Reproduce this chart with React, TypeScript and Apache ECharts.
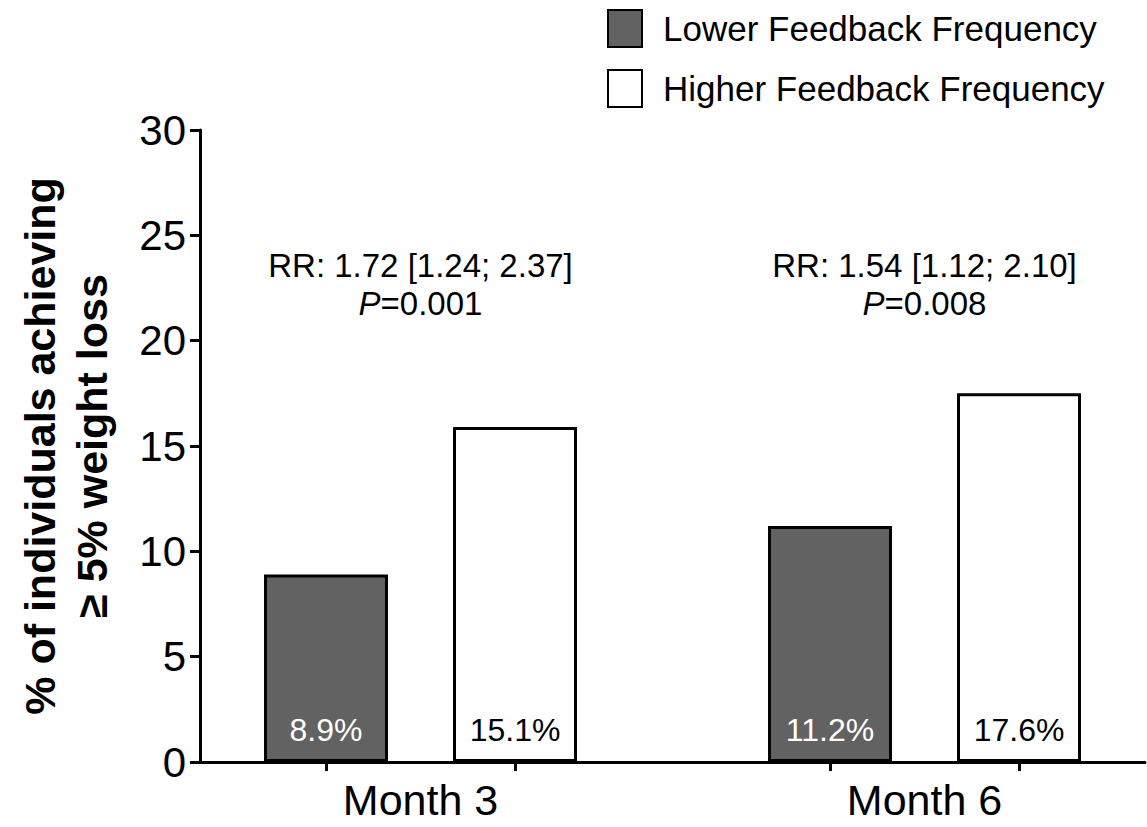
import React, { useEffect, useRef } from "react";
import * as echarts from "echarts";

// ---- data ----
const groups = ["Month 3", "Month 6"];
const seriesNames = ["Lower Feedback Frequency", "Higher Feedback Frequency"];
const lowerValues = [8.9, 11.2];
const higherValues = [15.9, 17.5];
const lowerLabels = ["8.9%", "11.2%"];
const higherLabels = ["15.1%", "17.6%"];
const rrTexts = ["RR: 1.72 [1.24; 2.37]", "RR: 1.54 [1.12; 2.10]"];
const pTexts = ["0.001", "0.008"];
const yTicks = [0, 5, 10, 15, 20, 25, 30];

// ---- layout (slot positions on a fine category axis) ----
const SLOT_COUNT = 31;
const lowerSlots = [4, 20];
const higherSlots = [10, 26];
const labelSlots = [7, 23];

const FONT = "'Liberation Sans', Arial, Helvetica, sans-serif";

export default function App() {
  const ref = useRef<HTMLDivElement>(null);

  useEffect(() => {
    if (!ref.current) return;
    const chart = echarts.init(ref.current, undefined, { renderer: "svg" });

    const cats: string[] = Array.from({ length: SLOT_COUNT }, () => "");
    labelSlots.forEach((s, i) => (cats[s] = groups[i]));
    const lowerData: (number | null)[] = Array.from({ length: SLOT_COUNT }, () => null);
    const higherData: (number | null)[] = Array.from({ length: SLOT_COUNT }, () => null);
    lowerSlots.forEach((s, i) => (lowerData[s] = lowerValues[i]));
    higherSlots.forEach((s, i) => (higherData[s] = higherValues[i]));

    const gridLeft = 200;
    const gridRight = 2;
    const gridTop = 130;
    const gridBottom = 65;
    const W = 1147;
    const plotW = W - gridLeft - gridRight;
    const slotPx = plotW / (SLOT_COUNT - 1);

    const annotations = labelSlots.map((s, i) => ({
      type: "text",
      x: gridLeft + s * slotPx,
      y: 284,
      style: {
        text: `${rrTexts[i]}\n{i|P}=${pTexts[i]}`,
        fontFamily: FONT,
        fontSize: 33,
        lineHeight: 38,
        fill: "#000",
        align: "center",
        verticalAlign: "middle",
        rich: {
          i: { fontStyle: "italic", fontFamily: FONT, fontSize: 33, lineHeight: 38, fill: "#000" },
        },
      },
    }));

    chart.setOption({
      animation: false,
      backgroundColor: "#fff",
      textStyle: { fontFamily: FONT },
      grid: { left: gridLeft, right: gridRight, top: gridTop, bottom: gridBottom, containLabel: false },
      legend: {
        orient: "vertical",
        left: 607,
        top: 9,
        padding: 0,
        itemWidth: 34,
        itemHeight: 37,
        itemGap: 21,
        icon: "rect",
        data: seriesNames,
        selectedMode: false,
        textStyle: { fontSize: 35, color: "#000", fontFamily: FONT, padding: [0, 0, 0, 16] },
      },
      xAxis: {
        type: "category",
        data: cats,
        boundaryGap: false,
        axisLine: { lineStyle: { color: "#000", width: 3 } },
        axisTick: {
          show: true,
          length: 9,
          lineStyle: { color: "#000", width: 3 },
          interval: (idx: number) => lowerSlots.includes(idx) || higherSlots.includes(idx),
        },
        axisLabel: {
          interval: (idx: number) => labelSlots.includes(idx),
          fontSize: 43,
          color: "#000",
          margin: 16,
          fontFamily: FONT,
        },
        splitLine: { show: false },
      },
      yAxis: {
        type: "value",
        min: 0,
        max: 30,
        interval: 5,
        name: "% of individuals achieving\n≥ 5% weight loss",
        nameLocation: "middle",
        nameRotate: 90,
        nameGap: 82,
        nameTextStyle: {
          fontSize: 43,
          fontWeight: "bold",
          color: "#000",
          lineHeight: 52,
          fontFamily: FONT,
        },
        axisLine: { show: true, lineStyle: { color: "#000", width: 3 } },
        axisTick: { show: true, length: 10, lineStyle: { color: "#000", width: 3 } },
        axisLabel: {
          fontSize: 42,
          color: "#000",
          margin: 14,
          fontFamily: FONT,
          formatter: (v: number) => (yTicks.includes(v) ? String(v) : ""),
        },
        splitLine: { show: false },
      },
      series: [
        {
          name: seriesNames[0],
          type: "bar",
          data: lowerData,
          barWidth: 124,
          barGap: "-100%",
          itemStyle: { color: "#626262", borderColor: "#000", borderWidth: 3 },
          label: {
            show: true,
            position: "insideBottom",
            distance: 16,
            fontSize: 32,
            color: "#fff",
            fontFamily: FONT,
            formatter: (p: any) => lowerLabels[lowerSlots.indexOf(p.dataIndex)] ?? "",
          },
        },
        {
          name: seriesNames[1],
          type: "bar",
          data: higherData,
          barWidth: 124,
          barGap: "-100%",
          itemStyle: { color: "#fff", borderColor: "#000", borderWidth: 3 },
          label: {
            show: true,
            position: "insideBottom",
            distance: 16,
            fontSize: 32,
            color: "#000",
            fontFamily: FONT,
            formatter: (p: any) => higherLabels[higherSlots.indexOf(p.dataIndex)] ?? "",
          },
        },
      ],
      graphic: annotations,
    });

    return () => chart.dispose();
  }, []);

  return <div ref={ref} style={{ width: 1147, height: 827, position: "absolute", left: 0, top: 0 }} />;
}
